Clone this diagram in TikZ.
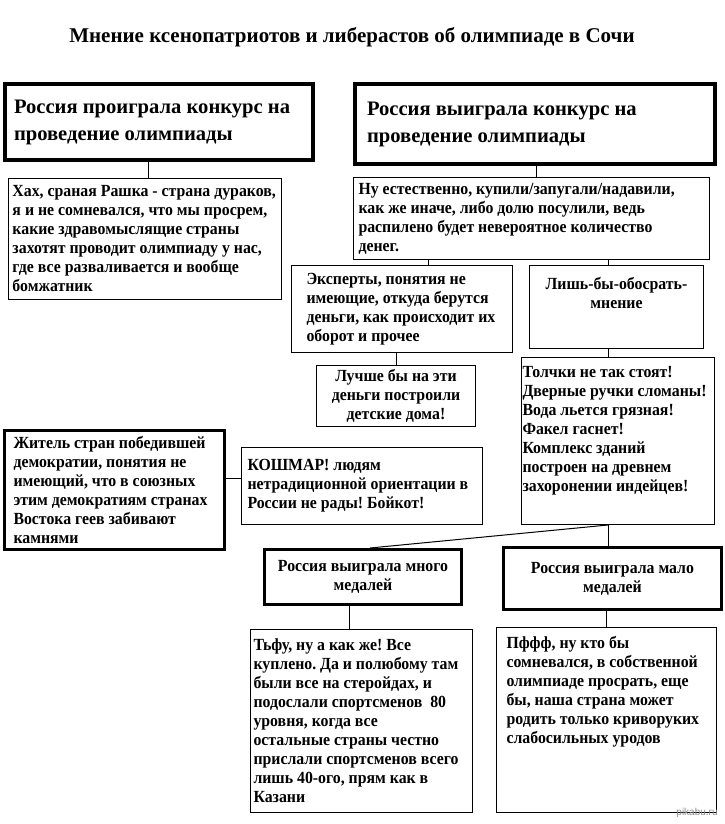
\documentclass[tikz,border=0pt]{standalone}
\usepackage{fontspec}
\setmainfont{Liberation Serif}
\setsansfont{Liberation Sans}
\newfontfamily\notefont[FakeStretch=0.93]{Liberation Serif}
\usetikzlibrary{positioning}
\frenchspacing
\newcommand{\toplines}[2]{\parbox[t][#1][t]{\linewidth}{\raggedright #2}}
\tikzset{
  heading/.style={font=\bfseries\fontsize{21}{24}\selectfont},
  headbox/.style={draw, line width=4pt, anchor=north west, align=flush left,
                  inner xsep=9pt, inner ysep=4pt,
                  font=\bfseries\fontsize{20.6}{27}\selectfont},
  notebox/.style={draw, line width=1pt, anchor=north west, align=flush left,
                  inner xsep=6pt, inner ysep=4pt,
                  font=\notefont\bfseries\fontsize{17}{19}\selectfont},
  boldbox/.style={notebox, line width=3pt},
  wire/.style={line width=1pt},
  stamp/.style={font=\sffamily\fontsize{10}{12}\selectfont, text=black!45},
}
\begin{document}
\begin{tikzpicture}[x=1pt, y=-1pt]
  \fill[white] (0,0) rectangle (725,824);
  \useasboundingbox (0,0) rectangle (725,824);

  \node[heading] (title) at (352,37)
    {Мнение ксенопатриотов и либерастов об олимпиаде в Сочи};

  % top level
  \node[headbox, text width=290pt, minimum height=76pt] (lost) at (3,82)
    {Россия проиграла конкурс на\\проведение олимпиады};
  \node[headbox, inner xsep=12pt, text width=336pt, minimum height=80pt] (won) at (353,82)
    {Россия выиграла конкурс на\\проведение олимпиады};

  \node[notebox, inner xsep=4pt, text width=265pt, minimum height=121pt] (mock) at (8,178)
    {Хах, сраная Рашка - страна дураков,\\я и не сомневался, что мы просрем,\\какие здравомыслящие страны\\захотят проводит олимпиаду у нас,\\где все разваливается и вообще\\бомжатник};
  \node[notebox, inner xsep=5pt, text width=346pt, minimum height=82pt] (bribe) at (353,177)
    {Ну естественно, купили/запугали/надавили,\\как же иначе, либо долю посулили, ведь\\распилено будет невероятное количество\\денег.};

  \node[notebox, inner xsep=15pt, text width=191pt, minimum height=87pt] (experts) at (291,265)
    {Эксперты, понятия не\\имеющие, откуда берутся\\деньги, как происходит их\\оборот и прочее};
  \node[notebox, align=flush center, inner xsep=8pt, inner ysep=12pt, text width=158pt, minimum height=83pt] (spoil) at (529,265)
    {\toplines{59pt}{\centering Лишь-бы-обосрать-\\мнение}};
  \node[notebox, align=flush center, text width=147pt, minimum height=60pt] (houses) at (316,365)
    {Лучше бы на эти\\деньги построили\\детские дома!};
  \node[notebox, inner xsep=1pt, inner ysep=9pt, text width=191pt, minimum height=167pt] (faults) at (521,357)
    {\toplines{149pt}{Толчки не так стоят!\\Дверные ручки сломаны!\\Вода льется грязная!\\Факел гаснет!\\Комплекс зданий\\построен на древнем\\захоронении индейцев!}};

  % left side
  \node[boldbox, inner xsep=9pt, text width=202pt, minimum height=119pt] (resident) at (3,429)
    {Житель стран победившей\\демократии, понятия не\\имеющий, что в союзных\\этим демократиям странах\\Востока геев забивают\\камнями};
  \node[notebox, text width=229pt, minimum height=77pt] (panic) at (241,447)
    {КОШМАР! людям\\нетрадиционной ориентации в\\России не рады! Бойкот!};

  % medals
  \node[boldbox, align=flush center, inner xsep=8pt, text width=181pt, minimum height=55pt] (many) at (263,548)
    {Россия выиграла много\\медалей};
  \node[boldbox, align=flush center, inner xsep=8pt, text width=202pt, minimum height=62pt] (few) at (502,546)
    {Россия выиграла мало\\медалей};
  \node[notebox, inner xsep=3pt, text width=216pt, minimum height=183pt] (cheat) at (250,629)
    {Тьфу, ну а как же! Все\\куплено. Да и полюбому там\\были все на стеройдах, и\\подослали спортсменов~~80\\уровня, когда все\\остальные страны честно\\прислали спортсменов всего\\лишь 40-ого, прям как в\\Казани};
  \node[notebox, inner xsep=10pt, inner ysep=9pt, text width=200pt, minimum height=185pt] (weak) at (496,627)
    {\toplines{167pt}{Пффф, ну кто бы\\сомневался, в собственной\\олимпиаде просрать, еще\\бы, наша страна может\\родить только криворуких\\слабосильных уродов}};

  \node[stamp] (site) at (697,813) {pikabu.ru};

  % connector columns
  \coordinate (xlost) at (148,0);
  \coordinate (xwon) at (536,0);
  \coordinate (xexp) at (428,0);
  \coordinate (xspoil) at (608,0);
  \coordinate (xhouse) at (396,0);
  \coordinate (xfault) at (608,0);
  \coordinate (xmany) at (370,0);
  \coordinate (xcheat) at (349,0);
  \coordinate (xweak) at (606,0);
  \coordinate (ypanic) at (0,478);

  \draw[wire] (xlost |- lost.south) -- (xlost |- mock.north);
  \draw[wire] (xwon |- won.south) -- (xwon |- bribe.north);
  \draw[wire] (xexp |- bribe.south) -- (xexp |- experts.north);
  \draw[wire] (xspoil |- bribe.south) -- (xspoil |- spoil.north);
  \draw[wire] (xhouse |- experts.south) -- (xhouse |- houses.north);
  \draw[wire] (xspoil |- spoil.south) -- (xspoil |- faults.north);
  \draw[wire] (resident.east |- ypanic) -- (panic.west |- ypanic);
  \draw[wire] (xfault |- faults.south) -- (xfault |- few.north);
  \draw[wire] (xfault |- faults.south) -- (xmany |- many.north);
  \draw[wire] (xcheat |- many.south) -- (xcheat |- cheat.north);
  \draw[wire] (xweak |- few.south) -- (xweak |- weak.north);
\end{tikzpicture}
\end{document}
